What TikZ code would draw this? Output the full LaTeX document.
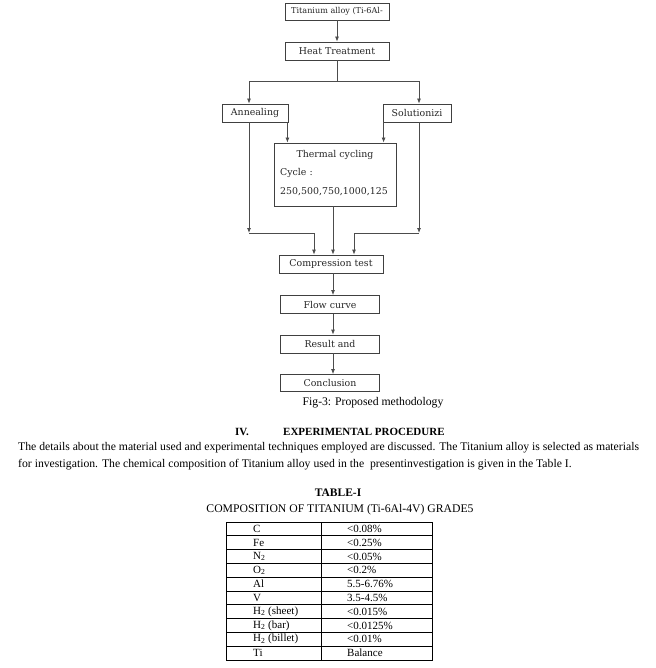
\documentclass[tikz,border=0pt]{standalone}
\usepackage{fontspec}
\setmainfont{Liberation Serif}
\newfontfamily\flowfont{DejaVu Serif}
\usetikzlibrary{arrows.meta}

\begin{document}
\begin{tikzpicture}[x=1pt, y=-1pt, >={Latex[length=5pt,width=4pt]}]
        \tikzstyle{every node}=[inner sep=0pt]
        \tikzstyle{box}=[draw=black!75, line width=0.8pt, minimum height=18pt, font=\flowfont\fontsize{9.4}{11}\selectfont, text=black!85]
        \tikzstyle{flowtxt}=[font=\flowfont\fontsize{9.4}{11}\selectfont, text=black!85]
        \tikzstyle{link}=[draw=black!70, line width=0.8pt]
        \tikzstyle{txt}=[font=\fontsize{11.7}{14}\selectfont, anchor=base west]
        \tikzstyle{celltxt}=[font=\fontsize{11}{13}\selectfont, anchor=west]
        \useasboundingbox (0,0) rectangle (655,668);
        % flow chart
        \node [box, minimum width=104pt, minimum height=17pt, font=\flowfont\fontsize{8.1}{9}\selectfont] (alloy) at (337,11.5) {Titanium alloy (Ti-6Al-};
        \node [box, minimum width=104pt] (heat) at (337,51) {Heat Treatment};
        \node [box, minimum width=66pt] (anneal) at (255,113) {Annealing};
        \node [box, minimum width=68pt] (sol) at (417,113) {Solutionizi};
        \node [box, minimum width=122pt, minimum height=63pt] (therm) at (335,174.5) {};
        \node [flowtxt] (thermt) at (335,155) {Thermal cycling};
        \node [flowtxt, anchor=west] (cyc) at (280,173) {Cycle :};
        \node [flowtxt, anchor=west] (cycn) at (280,192) {250,500,750,1000,125};
        \node [box, minimum width=104pt] (comp) at (331,264) {Compression test};
        \node [box, minimum width=99pt] (flow) at (330,304.5) {Flow curve};
        \node [box, minimum width=99pt] (res) at (330,344) {Result and};
        \node [box, minimum width=99pt, minimum height=17pt] (concl) at (330,383) {Conclusion};
        \coordinate (split) at (337,81);
        \coordinate (ljoin) at (249,233);
        \coordinate (rjoin) at (419,233);
        \coordinate (mid) at (333,0);
        \coordinate (aout) at ([xshift=-1pt]anneal.south east);
        \coordinate (sout) at ([xshift=1pt]sol.south west);
        \draw [link,->] (alloy) -- (heat);
        \draw [link] (heat) -- (split);
        \draw [link,->] (split) -| ([xshift=-6pt]anneal.north);
        \draw [link,->] (split) -| ([xshift=2pt]sol.north);
        \draw [link,->] (aout) -- (aout |- therm.north);
        \draw [link,->] (sout) -- (sout |- therm.north);
        \draw [link,->] ([xshift=-6pt]anneal.south) -- (ljoin);
        \draw [link,->] ([xshift=2pt]sol.south) -- (rjoin);
        \draw [link,->] (ljoin) -| ([xshift=-17pt]comp.north);
        \draw [link,->] (rjoin) -| ([xshift=23pt]comp.north);
        \draw [link,->] (therm.south -| mid) -- (comp.north -| mid);
        \foreach \a/\b in {comp/flow, flow/res, res/concl}
            \draw [link,->] (\a.south -| mid) -- (\b.north -| mid);
        % caption and text
        \node [txt, anchor=base] (cap) at (373,405) {Fig-3: Proposed methodology};
        \node [txt, font=\bfseries\fontsize{11}{13}\selectfont] (secno) at (235,435) {IV.};
        \node [txt, font=\bfseries\fontsize{11}{13}\selectfont] (sec) at (283,435) {EXPERIMENTAL PROCEDURE};
        \node [txt] (par1) at (18,450) {The details about the material used and experimental techniques employed are discussed. The Titanium alloy is selected as materials};
        \node [txt] (par2) at (18,467) {for investigation. The chemical composition of Titanium alloy used in the\ \ presentinvestigation is given in the Table I.};
        \node [txt, anchor=base, font=\bfseries\fontsize{11.5}{13}\selectfont] (tabno) at (338,496) {TABLE-I};
        \node [txt, anchor=base] (tabcap) at (340,512) {COMPOSITION OF TITANIUM (Ti-6Al-4V) GRADE5};
        % table
        \draw [line width=0.8pt] (226,522) rectangle (432,660);
        \draw [line width=0.8pt] (321,522) -- (321,660);
        \foreach \i in {1,...,9}
            \draw [line width=0.8pt] (226,522+13.8*\i) -- (432,522+13.8*\i);
        \foreach \el/\val [count=\i] in {C/<0.08\%, Fe/<0.25\%, N\textsubscript{2}/<0.05\%, O\textsubscript{2}/<0.2\%, Al/5.5-6.76\%, V/3.5-4.5\%, H\textsubscript{2} (sheet)/<0.015\%, H\textsubscript{2} (bar)/<0.0125\%, H\textsubscript{2} (billet)/<0.01\%, Ti/Balance} {
            \node [celltxt] (el\i) at (253,522+13.8*\i-6.9) {\el};
            \node [celltxt] (val\i) at (347,522+13.8*\i-6.9) {\val};
        }
    \end{tikzpicture}
\end{document}
